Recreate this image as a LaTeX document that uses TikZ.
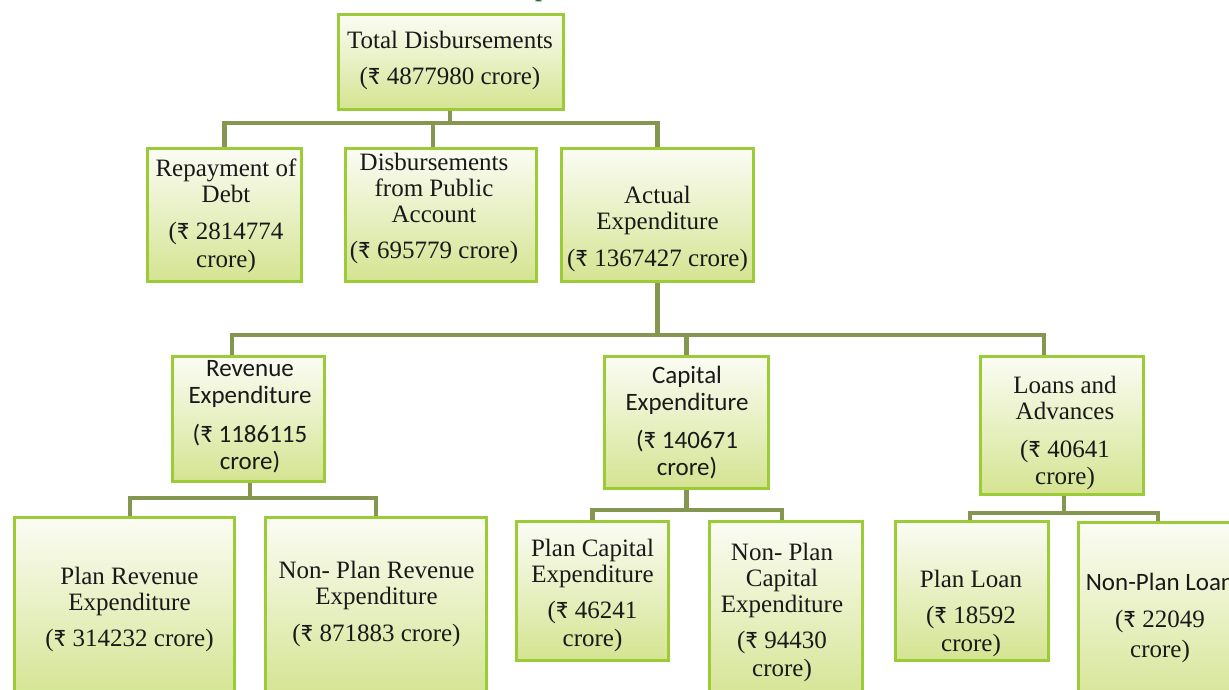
\documentclass[tikz,border=0pt]{standalone}
\usepackage{fontspec}
\setmainfont{Liberation Serif}
\newfontfamily\calfont{Carlito}
\newcommand\rs{{\calfont ₹}}
\definecolor{boxline}{RGB}{155,204,55}
\definecolor{boxtop}{RGB}{251,252,244}
\definecolor{boxbot}{RGB}{212,228,145}
\definecolor{connc}{RGB}{132,150,80}
\definecolor{titlegreen}{RGB}{30,110,40}
\begin{document}
\begin{tikzpicture}[x=1pt,y=-1pt,
  box/.style={draw=boxline, line width=3pt, top color=boxtop, bottom color=boxbot, inner sep=0pt, rectangle},
  txt/.style={align=center, inner sep=0pt, font=\fontsize{25}{26}\selectfont, text=black!90},
  stxt/.style={align=center, inner sep=0pt, font=\calfont\fontsize{25}{27}\selectfont, text=black!90},
  conn/.style={draw=connc, line width=4.5pt}]
\useasboundingbox (0,0) rectangle (1229,690);
\clip (0,0) rectangle (1229,690);
\fill[white] (0,0) rectangle (1229,690);

% title fragment
\node[anchor=base west, inner sep=0pt, font=\bfseries\fontsize{25}{26}\selectfont, text=titlegreen] (ttl) at (535,-3) {p};

% boxes
\node[box, minimum width=225pt, minimum height=95pt] (tot) at (451,62) {};
\node[box, minimum width=154pt, minimum height=133pt] (rep) at (224.5,215) {};
\node[box, minimum width=191pt, minimum height=133pt] (dpa) at (441,215) {};
\node[box, minimum width=192pt, minimum height=133pt] (act) at (657.5,215) {};
\node[box, minimum width=152pt, minimum height=125pt] (rev) at (248.5,419) {};
\node[box, minimum width=164pt, minimum height=132pt] (cap) at (686.5,422.5) {};
\node[box, minimum width=163pt, minimum height=138pt] (loa) at (1062,425.5) {};
\node[box, minimum width=220pt, minimum height=183pt] (pre) at (124.5,609) {};
\node[box, minimum width=221pt, minimum height=181pt] (npre) at (376,608) {};
\node[box, minimum width=152pt, minimum height=139pt] (pce) at (592.5,591) {};
\node[box, minimum width=153pt, minimum height=181pt] (npce) at (786,612) {};
\node[box, minimum width=153pt, minimum height=139pt] (plo) at (972,591) {};
\node[box, minimum width=163pt, minimum height=191pt] (nplo) at (1160,618) {};

% texts
\node[txt] (tot-t) at (450,60) {Total Disbursements\\[10pt](\rs{} 4877980 crore)};
\node[txt] (rep-t) at (226,215.5) {Repayment of\\Debt\\[11pt](\rs{} 2814774\\[2pt]crore)};
\node[txt] (dpa-t) at (434,208) {Disbursements\\from Public\\Account\\[10pt](\rs{} 695779 crore)};
\node[txt] (act-t) at (657.5,228.5) {Actual\\Expenditure\\[11pt](\rs{} 1367427 crore)};
\node[stxt] (rev-t) at (250,416.5) {Revenue\\Expenditure\\[12pt](\rs{} 1186115\\crore)};
\node[stxt] (cap-t) at (687,422.5) {Capital\\Expenditure\\[11pt](\rs{} 140671\\crore)};
\node[txt] (loa-t) at (1065,433) {Loans and\\Advances\\[12pt](\rs{} 40641\\[1pt]crore)};
\node[txt] (pre-t) at (129.5,609) {Plan Revenue\\Expenditure\\[10pt](\rs{} 314232 crore)};
\node[txt] (npre-t) at (376.5,604) {Non- Plan Revenue\\Expenditure\\[11pt](\rs{} 871883 crore)};
\node[txt] (pce-t) at (592.5,595) {Plan Capital\\Expenditure\\[10pt](\rs{} 46241\\[2pt]crore)};
\node[txt] (npce-t) at (782,612) {Non- Plan\\Capital\\Expenditure\\[10pt](\rs{} 94430\\[2pt]crore)};
\node[txt] (plo-t) at (971,613) {Plan Loan\\[10pt](\rs{} 18592\\[2pt]crore)};
\node[txt] (nplo-t) at (1160,618) {{\calfont Non-Plan Loan}\\[11pt](\rs{} 22049\\[4pt]crore)};

% connectors
\coordinate (b1) at (0,123);
\coordinate (b2) at (0,335);
\coordinate (b3) at (0,498);
\coordinate (b4) at (0,510);
\coordinate (b5) at (0,513);
\coordinate (totB) at ([xshift=-1pt]tot.south);
\coordinate (dpaT) at ([xshift=-8pt]dpa.north);
\coordinate (revT) at ([xshift=-16.5pt]rev.north);
\coordinate (loaT) at ([xshift=-18pt]loa.north);
\coordinate (revB) at ([xshift=1.5pt]rev.south);
\coordinate (preT) at ([xshift=5.5pt]pre.north);
\coordinate (npceT) at ([xshift=-4pt]npce.north);
\coordinate (loaB) at ([xshift=2pt]loa.south);
\coordinate (ploT) at ([xshift=-2pt]plo.north);
\coordinate (nploT) at ([xshift=-2pt]nplo.north);

\draw[conn] (totB) -- (totB |- b1);
\draw[conn] (rep.north) -- (rep.north |- b1) -- (act.north |- b1) -- (act.north);
\draw[conn] (dpaT) -- (dpaT |- b1);

\draw[conn] (act.south) -- (act.south |- b2);
\draw[conn] (revT) -- (revT |- b2) -- (loaT |- b2) -- (loaT);
\draw[conn] (cap.north) -- (cap.north |- b2);

\draw[conn] (revB) -- (revB |- b3);
\draw[conn] (preT) -- (preT |- b3) -- (npre.north |- b3) -- (npre.north);

\draw[conn] (cap.south) -- (cap.south |- b4);
\draw[conn] (pce.north) -- (pce.north |- b4) -- (npceT |- b4) -- (npceT);

\draw[conn] (loaB) -- (loaB |- b5);
\draw[conn] (ploT) -- (ploT |- b5) -- (nploT |- b5) -- (nploT);
\end{tikzpicture}
\end{document}
